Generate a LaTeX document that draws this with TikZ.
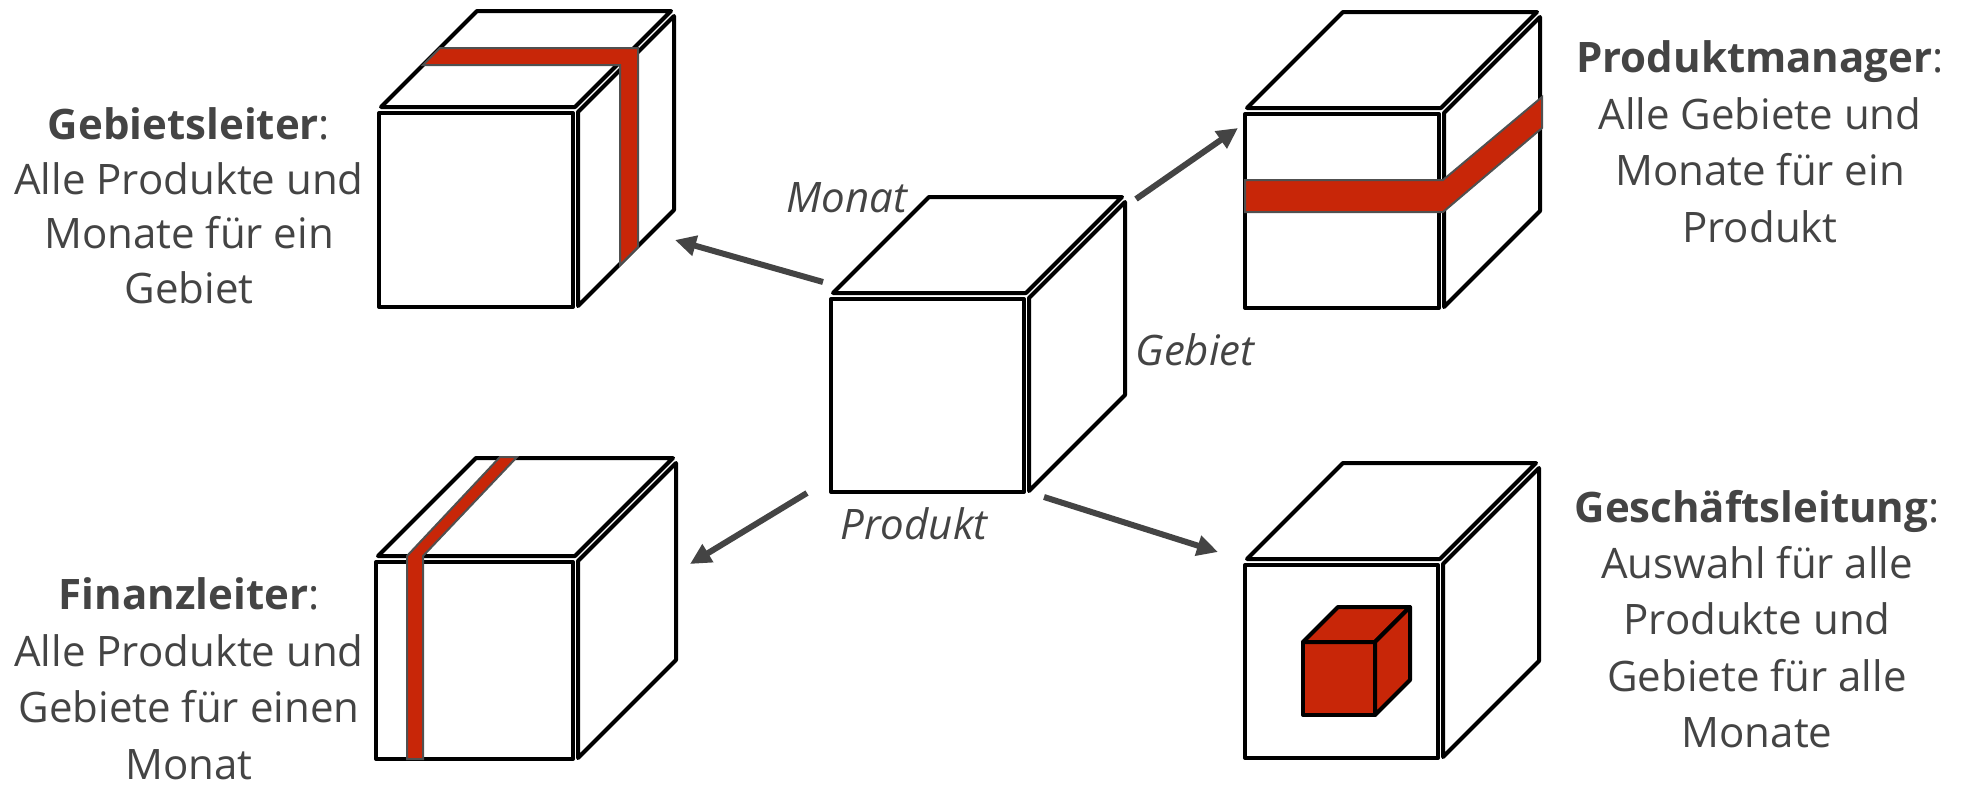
\documentclass[tikz,border=0pt]{standalone}
\usepackage{fontspec}
\setmainfont{Open Sans}
\usetikzlibrary{arrows.meta}

\definecolor{ink}{RGB}{68,68,68}
\definecolor{slicered}{RGB}{200,38,8}
\definecolor{rim}{RGB}{80,80,80}

% exploded cube: front face top-left corner (#1,#2), edge #3, depth #4
\newcommand\explodedcube[4]{%
  \begin{scope}[shift={(#1,#2)}]
    \draw[face] (0,0) rectangle (#3,#3);
    \draw[face] (2,-6) -- ({#3+2},-6) -- ({#3+2+#4},{-6-#4}) -- ({2+#4},{-6-#4}) -- cycle;
    \draw[face] ({#3+5},-1) -- ({#3+5},{#3-1}) -- ({#3+5+#4},{#3-1-#4}) -- ({#3+5+#4},{-1-#4}) -- cycle;
  \end{scope}}

\begin{document}
\begin{tikzpicture}[x=0.5pt, y=-0.5pt,
  face/.style={draw=black, fill=white, line width=2pt, line join=round},
  slicestrip/.style={fill=slicered, draw=rim, line width=1pt, line join=miter},
  solidcube/.style={fill=slicered, draw=black, line width=2pt, line join=round},
  flow/.style={draw=ink, line width=3pt, -{Triangle[length=10.5pt,width=10pt]}},
  role/.style={font=\fontsize{21}{28.4}\selectfont, text=ink, align=center, inner sep=0pt, anchor=north},
  axis/.style={font=\fontsize{21}{28}\selectfont\itshape, text=ink, inner sep=0pt, anchor=base}]

\path[use as bounding box] (0,0) rectangle (1964,787);

% central data cube
\explodedcube{831}{299}{193}{96}

% Gebietsleiter: one region slice
\explodedcube{379}{113}{194}{96}
\draw[slicestrip] (423,65) -- (440,48) -- (638,48) -- (638,247) -- (620,265) -- (620,65) -- cycle;

% Produktmanager: one product slice
\explodedcube{1245}{114}{194}{96}
\draw[slicestrip] (1245,180) -- (1443,180) -- (1542,97) -- (1542,128) -- (1443,212) -- (1245,212) -- cycle;

% Finanzleiter: one month slice
\explodedcube{376}{562}{197}{98}
\draw[slicestrip] (407,759) -- (407,556) -- (500,457) -- (517,457) -- (423,556) -- (423,759) -- cycle;

% Geschaeftsleitung: sub-cube
\explodedcube{1245}{565}{193}{96}
\draw[solidcube] (1303,642) rectangle (1375,715);
\draw[solidcube] (1303,642) -- (1338,607) -- (1410,607) -- (1375,642) -- cycle;
\draw[solidcube] (1375,642) -- (1410,607) -- (1410,680) -- (1375,715) -- cycle;

% axis labels
\node[axis] (monat) at (847,212) {Monat};
\node[axis] (gebiet) at (1195,365) {Gebiet};
\node[axis] (produkt) at (914,539) {Produkt};

% arrow ends
\coordinate (sGL) at (823,282);
\coordinate (tGL) at (675,240);
\coordinate (sPM) at (1136,199);
\coordinate (tPM) at (1238,128);
\coordinate (sFL) at (807,493);
\coordinate (tFL) at (690,564);
\coordinate (sGF) at (1044,497);
\coordinate (tGF) at (1218,552);

\draw[flow] (sGL) -- (tGL);
\draw[flow] (sPM) -- (tPM);
\draw[flow] (sFL) -- (tFL);
\draw[flow] (sGF) -- (tGF);

% role descriptions
\node[role, font=\fontsize{21}{27.4}\selectfont] (gl) at (189,107) {\textbf{Gebietsleiter}:\\Alle Produkte und\\Monate für ein\\Gebiet};
\node[role] (pm) at (1760,40) {\textbf{Produktmanager}:\\Alle Gebiete und\\Monate für ein\\Produkt};
\node[role] (fl) at (189,577) {\textbf{Finanzleiter}:\\Alle Produkte und\\Gebiete für einen\\Monat};
\node[role, font=\fontsize{21}{28.1}\selectfont] (gf) at (1757,490) {\textbf{Geschäftsleitung}:\\Auswahl für alle\\Produkte und\\Gebiete für alle\\Monate};

\end{tikzpicture}
\end{document}
